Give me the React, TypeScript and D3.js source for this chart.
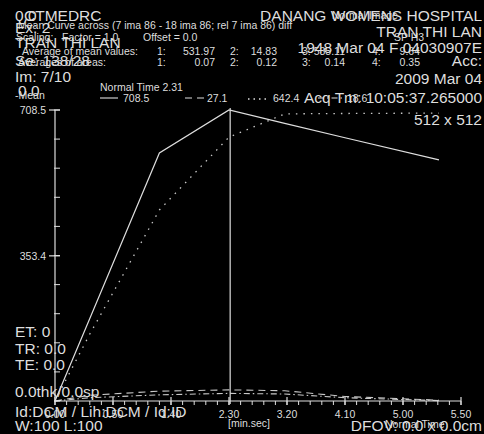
import React from "react";
import * as d3 from "d3";

// ---- data ----
const times = [0, 30, 90, 150, 198, 250, 331]; // seconds
const meanSolid = [0, 201, 604, 708.5, 676, 641, 587];
const meanDashed = [0, 14, 24, 27.1, 25, 11, 2];
const meanDotted = [0, 163, 465, 642.4, 699, 700, 701];
const meanDashDot = [0, 8, 15, 18.6, 17, 8, 1];
const legendValues = ["708.5", "27.1", "642.4", "18.6"];
const xTickSeconds = [0, 50, 100, 150, 200, 250, 300, 350];
const xTickLabels = ["0.00", "0.50", "1.40", "2.30", "3.20", "4.10", "5.00", "5.50"];
const yLabelValues = [708.5, 353.4];
const yLabelTexts = ["708.5", "353.4"];
const cursorTime = 151; // Normal Time 2.31
const avgMean = ["531.97", "14.83", "535.11", "9.64"];
const avgAreas = ["0.07", "0.12", "0.14", "0.35"];

const W = 484, H = 434;
const FG = "#dedede";
const FONT = "'Liberation Sans', Arial, sans-serif";
const BIG = 15.5;
const SMALL = 10.5;

export default function App() {
  const x = d3.scaleLinear().domain([0, 350]).range([55, 461]);
  const y = d3.scaleLinear().domain([0, 708.5]).range([401, 110]);
  const line = d3
    .line<number>()
    .x((_, i) => x(times[i]))
    .y((d) => y(d));

  const minorX = d3.range(0, 351, 10);
  const minorY = d3.range(0, 11).map((i) => (i * 708.5) / 10);

  const series = [
    { data: meanSolid, dash: undefined, w: 1.2, op: 1 },
    { data: meanDashed, dash: "7,5", w: 1.1, op: 0.9 },
    { data: meanDotted, dash: "1.5,6", w: 1.3, op: 0.9 },
    { data: meanDashDot, dash: "6,3,1.5,3", w: 1.1, op: 0.9 },
  ];

  const big = (t: string, px: number, py: number, anchor: any = "start") => (
    <text x={px} y={py} fontSize={BIG} textAnchor={anchor} fill={FG}>{t}</text>
  );
  const small = (t: string, px: number, py: number, anchor: any = "start") => (
    <text x={px} y={py} fontSize={SMALL} textAnchor={anchor} fill={FG}>{t}</text>
  );

  const colLabelX = [157, 230, 302, 372];
  const colValX = [215, 277, 345, 420];

  return (
    <svg
      width={W}
      height={H}
      style={{ position: "fixed", left: 0, top: 0, display: "block" }}
      fontFamily={FONT}
    >
      <rect x={0} y={0} width={W} height={H} fill="#000" />

      {/* top-left overlay */}
      {big("0.0", 15, 21)}
      {big("CTMEDRC", 24, 21)}
      {big("Ex: 2", 15, 33)}
      {small("Mean Curve across (7 ima 86 - 18 ima 86; rel 7 ima 86) diff", 18, 29)}
      {small("Scaling:", 16, 41)}
      {small("Factor = 1.0", 62, 41)}
      {small("Offset = 0.0", 143, 41)}
      {big("TRAN THI LAN", 15, 48)}
      {small("Average of mean values:", 22, 55)}
      {avgMean.map((v, i) => (
        <g key={"am" + i}>
          {small(`${i + 1}:`, colLabelX[i], 55)}
          {small(v, colValX[i], 55, "end")}
        </g>
      ))}
      {big("Se: 138/28", 15, 66)}
      {small("Averages of areas:", 18, 66)}
      {avgAreas.map((v, i) => (
        <g key={"aa" + i}>
          {small(`${i + 1}:`, colLabelX[i], 66)}
          {small(v, colValX[i], 66, "end")}
        </g>
      ))}
      {big("Im: 7/10", 15, 82)}
      {big("0.0", 18, 96)}
      {small("-Mean", 15, 99)}

      {/* top-right overlay */}
      {big("DANANG WOMENS HOSPITAL", 482, 21, "end")}
      {small("Normal Image", 332, 19)}
      {big("TRAN THI LAN", 482, 37, "end")}
      {small("SP H3", 394, 41)}
      {big("1948 Mar 04  F  04030907E", 482, 53, "end")}
      {big("Acc:", 482, 66, "end")}
      {big("2009 Mar 04", 482, 84, "end")}
      {big("Acq Tm: 10:05:37.265000", 482, 103, "end")}
      {big("512 x 512", 482, 125, "end")}

      {/* legend */}
      {small("Normal Time 2.31", 100, 91)}
      <line x1={100} x2={118} y1={98} y2={98} stroke={FG} strokeWidth={1.1} />
      {small(legendValues[0], 123, 102)}
      <line x1={185} x2={204} y1={98} y2={98} stroke={FG} strokeWidth={1.1} strokeDasharray="7,5" />
      {small(legendValues[1], 207, 102)}
      <line x1={248} x2={268} y1={99} y2={99} stroke={FG} strokeWidth={1.3} strokeDasharray="1.5,4" />
      {small(legendValues[2], 273, 102)}
      <line x1={318} x2={343} y1={98} y2={98} stroke={FG} strokeWidth={1.1} strokeDasharray="6,3,1.5,3" />
      {small(legendValues[3], 347, 102)}

      {/* y axis */}
      <line x1={x(0)} x2={x(0)} y1={y(708.5)} y2={402} stroke={FG} strokeWidth={1.2} />
      {minorY.map((v, i) => (
        <line key={"my" + i} x1={x(0) - 1} x2={x(0) + 5} y1={y(v)} y2={y(v)} stroke={FG} strokeWidth={1} />
      ))}
      {yLabelValues.map((v, i) => (
        <g key={"yl" + i}>
          <line x1={x(0) - 6} x2={x(0) + 5} y1={y(v)} y2={y(v)} stroke={FG} strokeWidth={1.2} />
          {small(yLabelTexts[i], 46, y(v) + 4, "end")}
        </g>
      ))}

      {/* x axis */}
      <line x1={x(0)} x2={x(350)} y1={y(0)} y2={y(0)} stroke={FG} strokeWidth={1.2} />
      {minorX.map((t, i) => (
        <line key={"mx" + i} x1={x(t)} x2={x(t)} y1={y(0)} y2={y(0) + 4} stroke={FG} strokeWidth={1} />
      ))}
      {xTickSeconds.map((t, i) => (
        <g key={"xt" + i}>
          <line x1={x(t)} x2={x(t)} y1={y(0) - 4} y2={y(0) + 4} stroke={FG} strokeWidth={1.2} />
          {small(xTickLabels[i], x(t), 418, "middle")}
        </g>
      ))}
      {small("[min.sec]", 228, 427)}

      {/* cursor */}
      <line x1={x(cursorTime)} x2={x(cursorTime)} y1={y(708.5) - 2} y2={y(0) + 3} stroke={FG} strokeWidth={1.2} />

      {/* series */}
      {series.map((s, i) => (
        <path
          key={"s" + i}
          d={line(s.data) || ""}
          fill="none"
          stroke={FG}
          strokeOpacity={s.op}
          strokeWidth={s.w}
          strokeDasharray={s.dash}
        />
      ))}

      {/* bottom-left overlay */}
      {big("ET: 0", 15, 337)}
      {big("TR: 0.0", 15, 354)}
      {big("TE: 0.0", 15, 370)}
      {big("0.0thk/0.0sp", 15, 397)}
      {big("Id:DCM / Lih:DCM / Id:ID", 15, 417)}
      {big("W:100  L:100", 15, 431)}

      {/* bottom-right overlay */}
      {big("DFOV: 0.0 x 0.0cm", 482, 431, "end")}
      {small("Normal Time", 385, 428)}
    </svg>
  );
}
